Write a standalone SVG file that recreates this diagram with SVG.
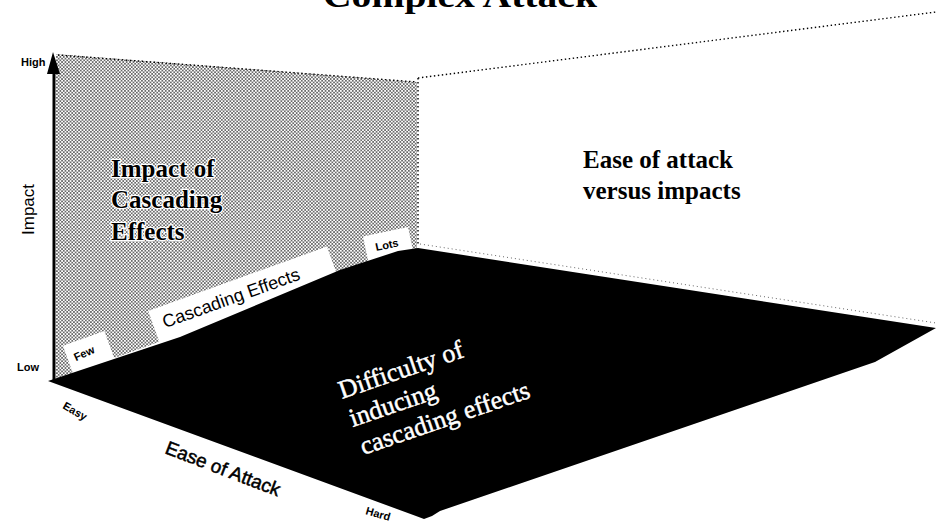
<svg xmlns="http://www.w3.org/2000/svg" width="936" height="523" viewBox="0 0 936 523">
<defs>
<pattern id="stip" width="3.4" height="3.4" patternUnits="userSpaceOnUse">
<rect width="3.4" height="3.4" fill="#ffffff"/>
<rect x="0.2" y="0.2" width="1.3" height="1.3" fill="#000"/>
<rect x="1.9" y="1.9" width="1.3" height="1.3" fill="#000"/>
</pattern>
</defs>
<style>
.serifb{font-family:"Liberation Serif","Times New Roman",serif;font-weight:bold;fill:#000}
.sans{font-family:"Liberation Sans",Arial,sans-serif;fill:#000}
.small{font-family:"Liberation Sans",Arial,sans-serif;font-weight:bold;font-size:11px;fill:#000}
.wtxt{font-family:"Liberation Serif","Times New Roman",serif;font-size:26px;fill:#fff;stroke:#fff;stroke-width:0.5}
.dots{fill:none;stroke:#000;stroke-width:1.4;stroke-dasharray:1.4 2.6}
.box{fill:#fff}
</style>
<rect width="936" height="523" fill="#fff"/>
<g id="title">
<text class="serifb" x="460" y="7" font-size="34" text-anchor="middle" textLength="274" lengthAdjust="spacingAndGlyphs">Complex Attack</text>
</g>
<g id="back-plane">
<path class="dots" d="M418,78 L936,12"/>
<path class="dots" d="M418,78 L418,246"/>
<text class="serifb" x="583" y="168" font-size="25">Ease of attack</text>
<text class="serifb" x="583" y="199" font-size="25">versus impacts</text>
</g>
<g id="wall">
<polygon points="56,54 417,82 417,249 56,379" fill="url(#stip)"/>
<path class="dots" d="M58,55 L417,82" stroke-width="2"/>
<text class="serifb" x="111" y="177" font-size="25" stroke="#fff" stroke-width="2.5" paint-order="stroke">Impact of</text>
<text class="serifb" x="111" y="208" font-size="25" stroke="#fff" stroke-width="2.5" paint-order="stroke">Cascading</text>
<text class="serifb" x="111" y="240" font-size="25" stroke="#fff" stroke-width="2.5" paint-order="stroke">Effects</text>
</g>
<g id="cascading-axis">
<g transform="translate(48,381) rotate(-19.8)">
<rect class="box" x="26" y="-28" width="44" height="30"/>
<text class="small" x="33" y="-9" font-size="12" transform="rotate(-5 33 -9)">Few</text>
<rect class="box" x="118" y="-32" width="190" height="34"/>
<text class="sans" x="128" y="-10" font-size="18">Cascading Effects</text>
</g>
<g transform="translate(366,241) rotate(-12)">
<rect class="box" x="-2" y="-5" width="46" height="26"/>
<text class="small" x="8" y="12">Lots</text>
</g>
</g>
<g id="floor">
<polygon points="48,381 180,337 340,270 398,251 418,248 936,328 875,362 440,511 432,516 424,519 416,516 48,381" fill="#000"/>
<path d="M420,246 L936,325" fill="none" stroke="#fff" stroke-width="1.2" stroke-dasharray="1 3"/>
<path d="M420,244 L936,323" fill="none" stroke="#000" stroke-width="1" stroke-dasharray="1 3" opacity="0.6"/>
<g transform="translate(342,399) rotate(-19)">
<text class="wtxt" x="0" y="0">Difficulty of</text>
<text class="wtxt" x="1" y="30">inducing</text>
<text class="wtxt" x="2" y="60">cascading effects</text>
</g>
</g>
<g id="connectors">
<line x1="54" y1="380" x2="54" y2="70" stroke="#000" stroke-width="3"/>
<polygon points="47,74 53,52 60,74" fill="#000"/>
</g>
<g id="axis-labels">
<text class="small" x="21" y="66">High</text>
<text class="small" x="17" y="371">Low</text>
<text class="sans" x="0" y="0" font-size="17" transform="translate(34,235) rotate(-90)">Impact</text>
<text class="small" font-size="12" transform="translate(62,408) rotate(30)">Easy</text>
<text class="sans" x="0" y="0" font-size="19" stroke="#000" stroke-width="0.5" transform="translate(164,453) rotate(21)">Ease of Attack</text>
<text class="small" font-size="12" transform="translate(365,514) rotate(16)">Hard</text>
</g>
</svg>
